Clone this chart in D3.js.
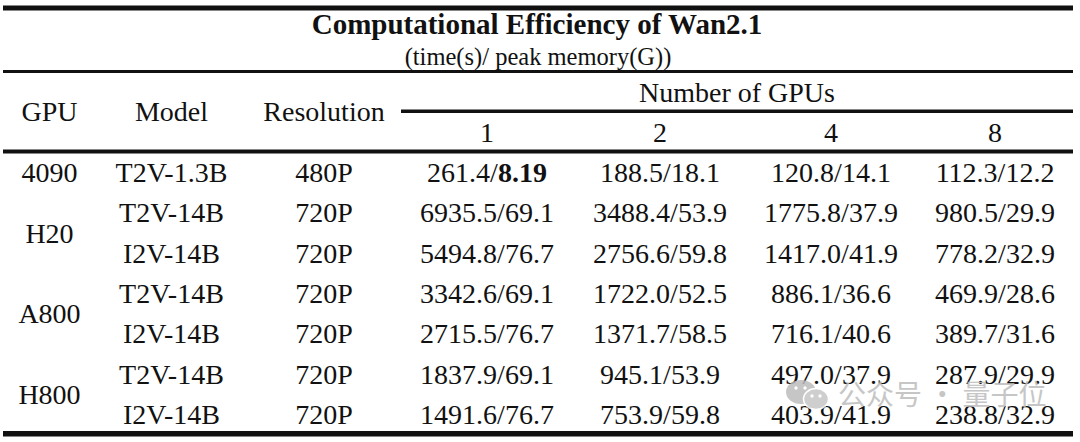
<!DOCTYPE html>
<html>
<head>
    <script src="https://cdnjs.cloudflare.com/ajax/libs/d3/7.8.5/d3.min.js"></script>
    <style>
        body { margin: 0; background: #fff; }
        svg text {
            font-family: "Liberation Serif", "Times New Roman", serif;
            fill: #111;
        }
        .rule { fill: #111; }
        .wm { font-family: "Noto Sans CJK SC", sans-serif; fill: #bdbdbd; }
    </style>
</head>
<body>
    <div id="table"></div>
    <script>
        const width = 1080, height = 442;

        // table data
        const gpus = ["4090", "H20", "H20", "A800", "A800", "H800", "H800"];
        const models = ["T2V-1.3B", "T2V-14B", "I2V-14B", "T2V-14B", "I2V-14B", "T2V-14B", "I2V-14B"];
        const resolutions = ["480P", "720P", "720P", "720P", "720P", "720P", "720P"];
        const gpuCounts = [1, 2, 4, 8];
        // time (s), one array per row, columns = gpuCounts
        const times = [
            [261.4, 188.5, 120.8, 112.3],
            [6935.5, 3488.4, 1775.8, 980.5],
            [5494.8, 2756.6, 1417.0, 778.2],
            [3342.6, 1722.0, 886.1, 469.9],
            [2715.5, 1371.7, 716.1, 389.7],
            [1837.9, 945.1, 497.0, 287.9],
            [1491.6, 753.9, 403.9, 238.8]
        ];
        // peak memory (G)
        const memory = [
            [8.19, 18.1, 14.1, 12.2],
            [69.1, 53.9, 37.9, 29.9],
            [76.7, 59.8, 41.9, 32.9],
            [69.1, 52.5, 36.6, 28.6],
            [76.7, 58.5, 40.6, 31.6],
            [69.1, 53.9, 37.9, 29.9],
            [76.7, 59.8, 41.9, 32.9]
        ];

        const svg = d3.select("#table").append("svg")
            .attr("width", width).attr("height", height);

        const left = 3, right = 1073;

        // row baselines
        const y = d3.scalePoint().domain(d3.range(models.length)).range([182, 424]);
        // column centres
        const xCol = d3.scaleOrdinal().domain(["GPU", "Model", "Resolution"]).range([49.5, 171.5, 324]);
        const xCount = d3.scaleOrdinal().domain(gpuCounts).range([487, 660, 831, 995]);

        // horizontal rules
        const rules = [
            { x1: left, x2: right, y: 5.5, h: 5 },
            { x1: left, x2: right, y: 70, h: 3 },
            { x1: 401, x2: right, y: 109.5, h: 3.5 },
            { x1: left, x2: right, y: 149.5, h: 4 },
            { x1: left, x2: right, y: 431, h: 5.5 }
        ];
        svg.append("g").selectAll("rect").data(rules).enter().append("rect")
            .attr("class", "rule")
            .attr("x", d => d.x1).attr("width", d => d.x2 - d.x1)
            .attr("y", d => d.y).attr("height", d => d.h);

        // title
        svg.append("text").attr("x", 537).attr("y", 34)
            .attr("text-anchor", "middle").attr("font-size", 29).attr("font-weight", "bold")
            .text("Computational Efficiency of Wan2.1");
        svg.append("text").attr("x", 538).attr("y", 65)
            .attr("text-anchor", "middle").attr("font-size", 24.5)
            .text("(time(s)/ peak memory(G))");

        // headers
        const head = svg.append("g").attr("font-size", 28).attr("text-anchor", "middle");
        head.selectAll("text.col").data(xCol.domain()).enter().append("text")
            .attr("class", "col")
            .attr("x", d => xCol(d)).attr("y", 121)
            .text(d => d);
        head.append("text").attr("x", 737).attr("y", 102).text("Number of GPUs");
        head.selectAll("text.cnt").data(gpuCounts).enter().append("text")
            .attr("class", "cnt")
            .attr("x", d => xCount(d)).attr("y", 142)
            .text(d => d);

        // body
        const body = svg.append("g").attr("font-size", 28).attr("text-anchor", "middle");

        // merged GPU cells
        const gpuGroups = d3.groups(d3.range(gpus.length), i => gpus[i]);
        body.selectAll("text.gpu").data(gpuGroups).enter().append("text")
            .attr("class", "gpu")
            .attr("x", xCol("GPU"))
            .attr("y", d => d3.mean(d[1], i => y(i)))
            .text(d => d[0]);

        body.selectAll("text.model").data(models).enter().append("text")
            .attr("class", "model")
            .attr("x", xCol("Model")).attr("y", (d, i) => y(i))
            .text(d => d);
        body.selectAll("text.res").data(resolutions).enter().append("text")
            .attr("class", "res")
            .attr("x", xCol("Resolution")).attr("y", (d, i) => y(i))
            .text(d => d);

        const minMem = d3.min(memory.flat());
        const fmtMem = v => v < 10 ? v.toFixed(2) : v.toFixed(1);
        const cells = [];
        times.forEach((row, r) => row.forEach((t, c) => {
            cells.push({ r, n: gpuCounts[c], t, m: memory[r][c] });
        }));
        const cell = body.selectAll("text.cell").data(cells).enter().append("text")
            .attr("class", "cell")
            .attr("x", d => xCount(d.n)).attr("y", d => y(d.r));
        cell.append("tspan").text(d => d.t.toFixed(1) + "/");
        cell.append("tspan")
            .attr("font-weight", d => d.m === minMem ? "bold" : null)
            .text(d => fmtMem(d.m));

        // watermark (sits over the last rows, as in the source image)
        const wm = svg.append("g").attr("opacity", 0.85);
        wm.append("ellipse").attr("cx", 801).attr("cy", 392).attr("rx", 15).attr("ry", 12).attr("fill", "#bdbdbd");
        wm.append("ellipse").attr("cx", 816).attr("cy", 399).attr("rx", 12.5).attr("ry", 10.5).attr("fill", "#c6c6c6")
            .attr("stroke", "#fff").attr("stroke-width", 1.5);
        [[796, 388], [805, 388], [812, 396], [820, 396]].forEach(p => {
            wm.append("circle").attr("cx", p[0]).attr("cy", p[1]).attr("r", 1.7).attr("fill", "#fff");
        });
        wm.append("text").attr("class", "wm").attr("x", 838).attr("y", 405)
            .attr("font-size", 28).text("公众号 · 量子位");
    </script>
</body>
</html>
